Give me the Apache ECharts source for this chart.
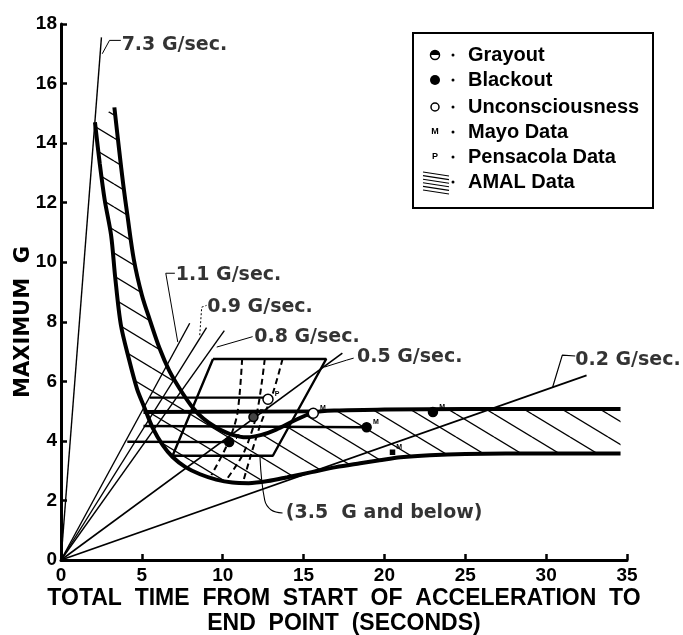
<!DOCTYPE html>
<html><head><meta charset="utf-8">
<script src="https://cdn.jsdelivr.net/npm/echarts@6/dist/echarts.min.js"></script>
<style>html,body{margin:0;padding:0;background:#fff}#c{width:683px;height:635px}</style>
</head><body><div id="c"></div>
<script>
// ---- data ----
const xTickStep = 5, xMax = 35, yTickStep = 2, yMax = 18;
const lowerCurve = [[2.1,14.7],[2.4,13.3],[2.7,12.1],[3.1,10.9],[3.35,9.5],[3.7,7.9],[4.2,6.75],[4.7,5.75],[5.1,5.2],[5.7,4.4],[6.3,3.85],[6.9,3.46],[7.7,3.12],[8.6,2.88],[9.6,2.7],[10.6,2.6],[11.6,2.58],[12.8,2.65],[14,2.78],[15.5,2.95],[17,3.12],[18.5,3.25],[19.7,3.35],[21,3.45],[22.8,3.52],[25,3.56],[30,3.58],[34.6,3.58]];
const upperCurve = [[3.3,15.2],[3.6,13.75],[3.85,12.6],[4.1,11.6],[4.5,10.1],[5.0,8.9],[5.5,8.05],[6.1,7.1],[6.7,6.35],[7.4,5.7],[8.1,5.15],[8.8,4.75],[9.6,4.45],[10.5,4.22],[11.5,4.12],[12.4,4.2],[13.3,4.38],[14.5,4.7],[15.6,4.95],[17,5.02],[20,5.05],[25,5.07],[34.6,5.07]];
const rate73 = [[0,0],[2.5,17.55]];
const rate11 = [[0,0],[7.96,7.95]];
const rate09 = [[0,0],[9.0,7.8]];
const rate08 = [[0,0],[10.1,7.7]];
const rate05 = [[0,0],[17.4,6.95]];
const rate02 = [[0,0],[32.5,6.2]];
const level55 = [[5.5,5.45],[12.8,5.45]];
const level50 = [[5.1,4.97],[15.6,4.99]];
const level45 = [[5.1,4.5],[18.9,4.46]];
const level40 = [[4.1,3.97],[10.4,3.96]];
const boxPts = [[9.4,6.75],[16.4,6.75],[13.1,3.5],[6.9,3.5],[9.4,6.75]];
const dash1 = [[11.2,6.75],[10.9,4.9],[10.3,3.9],[9.3,2.85]];
const dash2 = [[12.6,6.75],[12.1,4.9],[11.3,3.6],[10.3,2.75]];
const dash3 = [[13.7,6.75],[13.1,5.6],[12.3,4.5],[11.3,2.7]];
const lead73 = [[2.55,17.0],[3.0,17.45],[3.7,17.45]];
const lead11 = [[7.22,7.32],[6.48,9.63],[7.04,9.63]];
const lead09 = [[8.58,7.55],[8.7,8.49],[9.0,8.55]];
const lead08 = [[9.63,7.15],[11.85,7.5]];
const lead05 = [[16.3,6.48],[17.65,6.71],[18.1,6.78]];
const lead02 = [[30.4,5.8],[31.0,6.88],[31.8,6.85]];
const lead35 = [[12.3,3.5],[12.6,2.0],[13.0,1.68],[13.7,1.58]];
const annoText = ['7.3 G/sec.','1.1 G/sec.','0.9 G/sec.','0.8 G/sec.','0.5 G/sec.','0.2 G/sec.','(3.5  G and below)'];
const annoAt = [[3.75,17.28],[7.1,9.56],[9.05,8.49],[11.95,7.48],[18.3,6.81],[31.8,6.71],[13.9,1.58]];
const unconsc = [[12.8,5.4,'P'],[15.6,4.93,'M']];
const blackout = [[10.4,3.96,'P'],[18.9,4.46,'M'],[23.0,4.97,'M']];
const grayout = [[11.9,4.8,'P']];
const mayo = [[20.5,3.62,'M']];
const legendNames = ['Grayout','Blackout','Unconsciousness','Mayo Data','Pensacola Data','AMAL Data'];
const xName = 'TOTAL  TIME  FROM  START  OF  ACCELERATION  TO\nEND  POINT  (SECONDS)';
const yName = 'MAXIMUM  G';

// ---- drawing ----
const FONT = '"Liberation Sans", Arial, sans-serif';
const FONT2 = '"DejaVu Sans", sans-serif';
function hatchCanvas(V, W, lw) {
  const c = document.createElement('canvas'); c.width = W; c.height = V;
  const g = c.getContext('2d'); g.strokeStyle = '#000'; g.lineWidth = lw;
  for (let k = -1; k <= 1; k++) { g.beginPath(); g.moveTo(0, k*V); g.lineTo(W, k*V + V); g.stroke(); }
  return c;
}
const hatchImg = hatchCanvas(23, 38, 1.3);

function lineS(data, w, opts) {
  return Object.assign({ type:'line', data:data, symbol:'none', silent:true, animation:false,
    lineStyle:{ color:'#000', width:w } }, opts || {});
}
const chart = echarts.init(document.getElementById('c'));
const rows = [55,80,107,132,157,182];
const legendGraphics = [
  { type:'rect', shape:{x:413,y:33,width:240,height:175}, style:{fill:'#fff', stroke:'#000', lineWidth:2}, z:50 },
];
legendNames.forEach((n,i)=>{
  legendGraphics.push({ type:'text', x:468, y:rows[i], style:{text:n, font:'bold 20px '+FONT, fill:'#000', textVerticalAlign:'middle'}, z:51 });
  legendGraphics.push({ type:'circle', shape:{cx:453, cy:rows[i], r:1.5}, style:{fill:'#000'}, z:51 });
});
legendGraphics.push(
  { type:'circle', shape:{cx:435, cy:rows[0], r:4.5}, style:{fill:'#fff', stroke:'#000', lineWidth:1.5}, z:51 },
  { type:'sector', shape:{cx:435, cy:rows[0], r:4.5, startAngle:Math.PI, endAngle:2*Math.PI}, style:{fill:'#000'}, z:52 },
  { type:'circle', shape:{cx:435, cy:rows[1], r:5}, style:{fill:'#000'}, z:51 },
  { type:'circle', shape:{cx:435, cy:rows[2], r:4}, style:{fill:'#fff', stroke:'#000', lineWidth:1.5}, z:51 },
  { type:'text', x:435, y:rows[3], style:{text:'M', font:'bold 9px '+FONT, fill:'#000', textAlign:'center', textVerticalAlign:'middle'}, z:51 },
  { type:'text', x:435, y:rows[4], style:{text:'P', font:'bold 9px '+FONT, fill:'#000', textAlign:'center', textVerticalAlign:'middle'}, z:51 }
);
for (let k=0;k<6;k++) legendGraphics.push({ type:'line', shape:{x1:423, y1:172+3.6*k, x2:449, y2:176+3.6*k}, style:{stroke:'#000', lineWidth:1.1}, z:51 });

function markerSeries(data, sym, size, fill, border) {
  return { type:'scatter', data:data, symbol:sym, symbolSize:size, animation:false, z:10,
    itemStyle:{ color:fill, borderColor:border, borderWidth:1.5, opacity:1 },
    label:{ show:true, position:'right', distance:1, offset:[0,-5], formatter:p=>p.data[2]||'', fontSize:7, fontWeight:'bold', color:'#000', fontFamily:FONT } };
}

const option = {
  backgroundColor:'#fff',
  animation:false,
  grid:{ left:61, right:56, top:24, bottom:75, containLabel:false, outerBoundsMode:'none' },
  xAxis:{ type:'value', min:0, max:xMax, interval:xTickStep,
    axisLine:{ lineStyle:{ color:'#000', width:3 } },
    axisTick:{ inside:true, length:6, lineStyle:{ color:'#000', width:2.5 } },
    splitLine:{ show:false },
    axisLabel:{ color:'#000', fontSize:19, fontWeight:'bold', fontFamily:FONT, margin:6 },
    name:xName, nameLocation:'middle', nameGap:26, nameMoveOverlap:false,
    nameTextStyle:{ color:'#000', fontSize:23, fontWeight:'bold', fontFamily:FONT, lineHeight:25 } },
  yAxis:{ type:'value', min:0, max:yMax, interval:yTickStep,
    axisLine:{ lineStyle:{ color:'#000', width:3 } },
    axisTick:{ inside:true, length:6, lineStyle:{ color:'#000', width:2.5 } },
    splitLine:{ show:false },
    axisLabel:{ color:'#000', fontSize:19, fontWeight:'bold', fontFamily:FONT, margin:4 },
    name:yName, nameLocation:'middle', nameGap:27, nameMoveOverlap:false,
    nameTextStyle:{ color:'#000', fontSize:21, fontWeight:'bold', fontFamily:FONT2, padding:[0,60,0,0] } },
  graphic: legendGraphics,
  series:[
    { type:'custom', data:[0], silent:true, animation:false, z:1,
      renderItem:function(params, api){
        const poly = lowerCurve.concat(upperCurve.slice().reverse()).map(p=>api.coord(p));
        return { type:'polygon', shape:{ points:poly }, style:{ fill:{ image:hatchImg, repeat:'repeat' }, stroke:null } };
      } },
    lineS(lowerCurve, 4, { smooth:0.3, z:5 }),
    lineS(upperCurve, 4, { smooth:0.3, z:5 }),
    lineS(rate73, 1.4), lineS(rate11, 1.4), lineS(rate09, 1.4), lineS(rate08, 1.4),
    lineS(rate05, 1.6), lineS(rate02, 1.8),
    lineS(level55, 2.2), lineS(level50, 3.8), lineS(level45, 2.6), lineS(level40, 2.4),
    lineS(boxPts, 2.4),
    lineS(dash1, 2, { smooth:0.3, lineStyle:{ color:'#000', width:2, type:[6,4] } }),
    lineS(dash2, 2, { smooth:0.3, lineStyle:{ color:'#000', width:2, type:[6,4] } }),
    lineS(dash3, 2, { smooth:0.3, lineStyle:{ color:'#000', width:2, type:[6,4] } }),
    lineS(lead73, 1), lineS(lead11, 1),
    lineS(lead09, 1, { lineStyle:{ color:'#000', width:1, type:[2,2] } }),
    lineS(lead08, 1), lineS(lead05, 1), lineS(lead02, 1.2), lineS(lead35, 1.1, { smooth:0.4 }),
    markerSeries(unconsc, 'circle', 10, '#fff', '#000'),
    markerSeries(blackout, 'circle', 9, '#000', '#000'),
    markerSeries(grayout, 'circle', 9, '#444', '#000'),
    markerSeries(mayo, 'rect', 4, '#000', '#000'),
    { type:'scatter', data:annoAt.map((p,i)=>[p[0],p[1],annoText[i]]), symbolSize:0, animation:false, silent:true, z:20,
      label:{ show:true, position:'right', distance:0, formatter:p=>p.data[2], fontSize:19, fontWeight:'bold', color:'#000', fontFamily:FONT2 } }
  ]
};
chart.setOption(option);
</script></body></html>
